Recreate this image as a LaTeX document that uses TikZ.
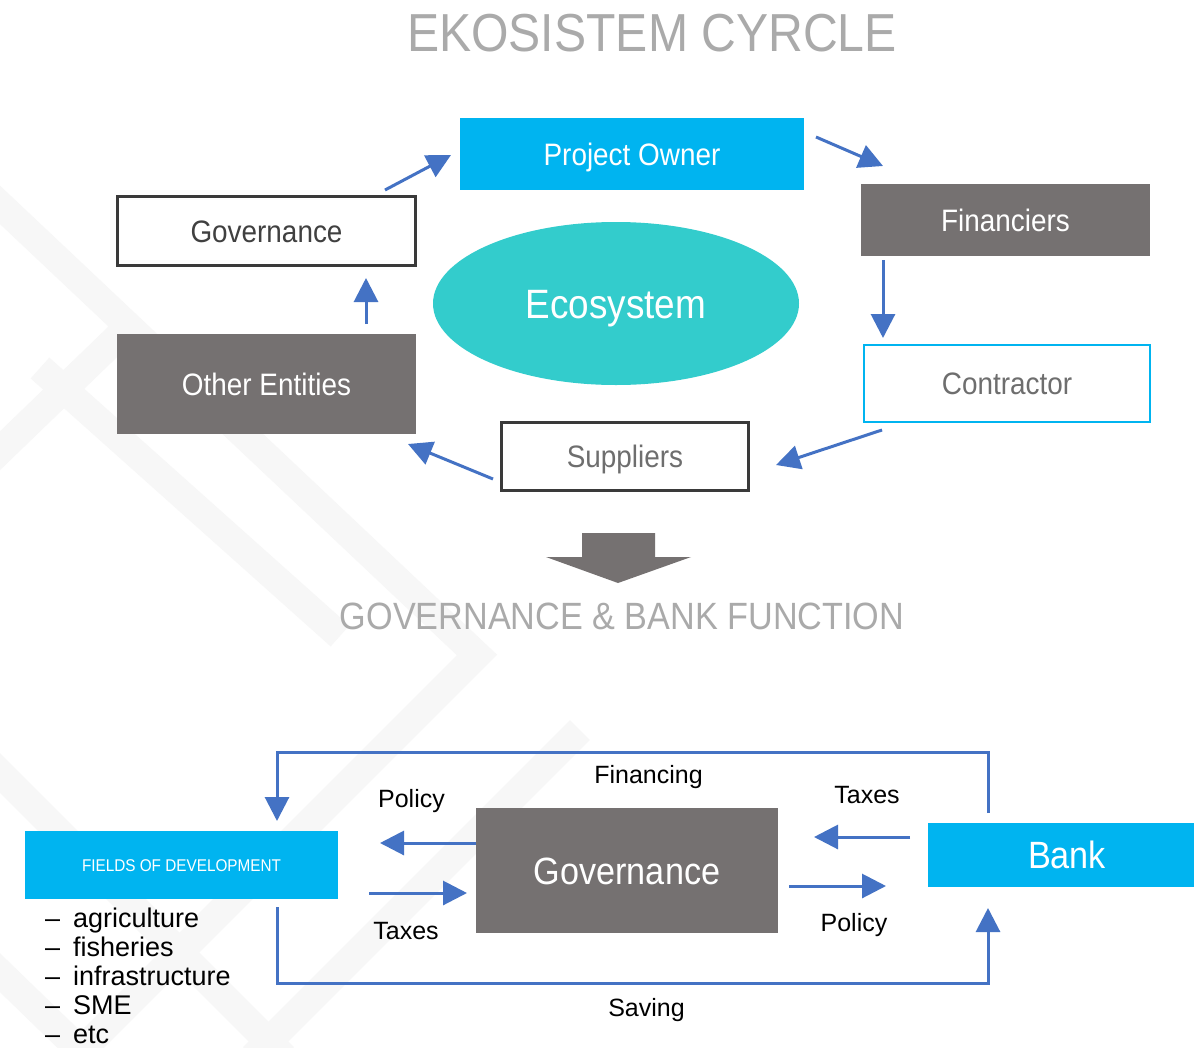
\documentclass[tikz,border=0pt]{standalone}
\usepackage{fontspec}
\setmainfont{Liberation Sans}
\newfontfamily\robo[FakeStretch=0.9]{Liberation Sans}
\usetikzlibrary{arrows.meta,shapes.geometric}
\definecolor{cyanbox}{HTML}{00B4F0}
\definecolor{graybox}{HTML}{757171}
\definecolor{ecoteal}{HTML}{33CCCC}
\definecolor{arrowblue}{HTML}{4472C4}
\definecolor{titlegray}{HTML}{AAAAAA}
\definecolor{darkline}{HTML}{3A3A3A}
\definecolor{darktext}{HTML}{404040}
\definecolor{boxtext}{HTML}{6E6E6E}
\definecolor{wmgray}{HTML}{F7F7F7}
\newcommand{\fsz}[1]{\fontsize{#1}{#1}\selectfont}
\begin{document}
\begin{tikzpicture}[x=1pt,y=-1pt,
  tbox/.style={rectangle, inner sep=0pt, text depth=0pt, text height=22.2pt, font=\robo\fsz{31}},
  cbox/.style={tbox, fill=cyanbox, text=white},
  gbox/.style={tbox, fill=graybox, text=white},
  wbox/.style={tbox, fill=white, text=boxtext},
  conn/.style={draw=arrowblue, line width=3pt, -{Triangle[length=24pt,width=24pt]}},
  lbl/.style={anchor=base, inner sep=0pt, font=\fsz{25}, text=black},
  item/.style={anchor=base west, inner sep=0pt, font=\fsz{27}, text=black},
  wmband/.style={draw=wmgray, line width=28pt, line cap=butt, line join=miter},
  hdg/.style={anchor=base, inner sep=0pt, text=titlegray}
]
\useasboundingbox (0,0) rectangle (1194,1047);
\clip (0,0) rectangle (1194,1047);
\fill[white] (0,0) rectangle (1194,1047);

% faint watermark bands
\draw[wmband] (-20,186) -- (477,655) -- (65,1067);
\draw[wmband] (125,330) -- (-20,470);
\draw[wmband] (40,368) -- (340,636);
\draw[wmband] (-10,763) -- (284,1057);
\draw[wmband] (-10,963) -- (87,1057);
\draw[wmband] (253,1057) -- (580,730);

% headings
\node[hdg, font=\robo\fsz{53.5}] (title) at (652,51) {EKOSISTEM CYRCLE};
\node[hdg, font=\robo\fsz{38}] (sub) at (622,629) {GOVERNANCE \& BANK FUNCTION};

% ecosystem cycle
\node[cbox, minimum width=343.5pt, minimum height=72pt] (po) at (632,154) {Project Owner};
\node[gbox, minimum width=289pt, minimum height=72pt] (fin) at (1005.5,220) {Financiers};
\node[wbox, draw=darkline, line width=3pt, text=darktext, minimum width=298pt, minimum height=69pt] (gov) at (266.5,231) {Governance};
\node[gbox, minimum width=299pt, minimum height=100pt] (oth) at (266.5,384) {Other Entities};
\node[wbox, draw=cyanbox, line width=2.5pt, minimum width=286pt, minimum height=77pt] (con) at (1007,383.5) {Contractor};
\node[wbox, draw=darkline, line width=3pt, minimum width=247pt, minimum height=68pt] (sup) at (625,456.5) {Suppliers};
\node[ellipse, inner sep=0pt, fill=ecoteal, text=white, font=\robo\fsz{41}, text height=29.4pt, text depth=0pt, minimum width=366pt, minimum height=163pt] (eco) at (616,303.5) {Ecosystem};

\coordinate (a1s) at (385,190); \coordinate (a1e) at (451,155);
\coordinate (a2s) at (816,137); \coordinate (a2e) at (883,166);
\coordinate (a3s) at (883,260); \coordinate (a3e) at (883,338);
\coordinate (a4s) at (882,430); \coordinate (a4e) at (776,465);
\coordinate (a5s) at (493,479); \coordinate (a5e) at (408,444);
\coordinate (a6s) at (366,324); \coordinate (a6e) at (366,278);
\draw[conn] (a1s) -- (a1e);
\draw[conn] (a2s) -- (a2e);
\draw[conn] (a3s) -- (a3e);
\draw[conn] (a4s) -- (a4e);
\draw[conn] (a5s) -- (a5e);
\draw[conn] (a6s) -- (a6e);

% big down arrow
\fill[graybox] (582,533) -- (655,533) -- (655,557) -- (691,557) -- (618,583) -- (546,557) -- (582,557) -- cycle;

% governance & bank function
\node[gbox, font=\robo\fsz{38}, text height=27.2pt, minimum width=302pt, minimum height=125pt] (gov2) at (627,870.5) {Governance};
\node[cbox, font=\robo\fsz{38}, text height=27.2pt, minimum width=278pt, minimum height=64pt] (bank) at (1067,855) {Bank};
\node[cbox, font=\robo\fsz{17}, text height=12.2pt, minimum width=313pt, minimum height=68pt] (fod) at (181.5,865) {FIELDS OF DEVELOPMENT};

\node[item] (l1) at (45,927) {\makebox[28pt][l]{–}agriculture};
\node[item] (l2) at (45,956) {\makebox[28pt][l]{–}fisheries};
\node[item] (l3) at (45,985) {\makebox[28pt][l]{–}infrastructure};
\node[item] (l4) at (45,1014) {\makebox[28pt][l]{–}SME};
\node[item] (l5) at (45,1043) {\makebox[28pt][l]{–}etc};

\node[lbl] (tfin) at (648.5,783) {Financing};
\node[lbl] (tpol1) at (411.5,807) {Policy};
\node[lbl] (ttax1) at (867,803) {Taxes};
\node[lbl] (ttax2) at (406,939) {Taxes};
\node[lbl] (tpol2) at (854,931) {Policy};
\node[lbl] (tsav) at (646.5,1016) {Saving};

\coordinate (fs) at (988,813); \coordinate (ftop) at (0,752); \coordinate (fe) at (277,821);
\coordinate (ss) at (277,907); \coordinate (sbot) at (0,983); \coordinate (se) at (988,908);
\draw[conn] (fs) -- (fs |- ftop) -| (fe);
\draw[conn] (ss) -- (ss |- sbot) -| (se);

\coordinate (b1s) at (476,843); \coordinate (b1e) at (380,843);
\coordinate (b2s) at (369,893); \coordinate (b2e) at (467,893);
\coordinate (b3s) at (910,837); \coordinate (b3e) at (814,837);
\coordinate (b4s) at (789,886); \coordinate (b4e) at (886,886);
\draw[conn] (b1s) -- (b1e);
\draw[conn] (b2s) -- (b2e);
\draw[conn] (b3s) -- (b3e);
\draw[conn] (b4s) -- (b4e);
\end{tikzpicture}
\end{document}
